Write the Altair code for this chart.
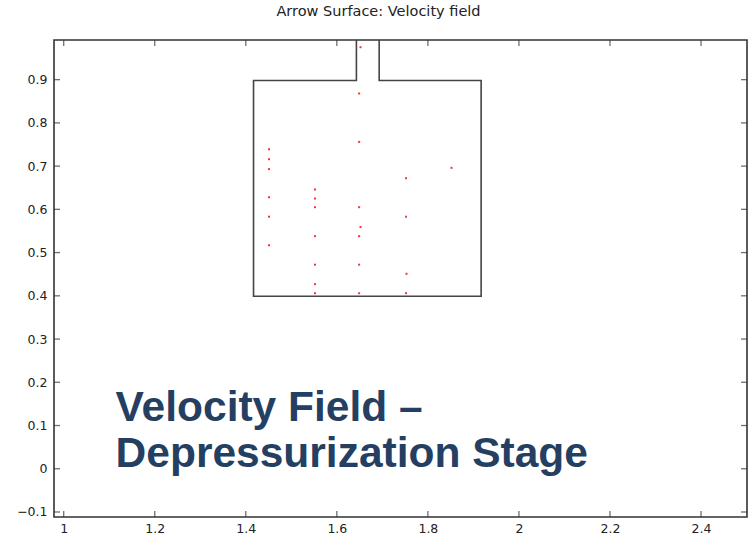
import altair as alt
import pandas as pd

# Geometry outline (box with outlet pipe), data coordinates
outline_x = [1.643, 1.643, 1.417, 1.417, 1.917, 1.917, 1.693, 1.693]
outline_y = [1.05, 0.898, 0.898, 0.399, 0.399, 0.898, 0.898, 1.05]

# Velocity arrow locations (arrows are tiny -> dots)
arrow_x = [1.652, 1.649, 1.649, 1.451, 1.451, 1.451, 1.852, 1.752, 1.552, 1.451,
           1.552, 1.552, 1.649, 1.451, 1.752, 1.652, 1.552, 1.649, 1.451, 1.552,
           1.649, 1.753, 1.552, 1.552, 1.649, 1.752]
arrow_y = [0.975, 0.868, 0.756, 0.739, 0.716, 0.693, 0.696, 0.672, 0.646, 0.628,
           0.625, 0.605, 0.605, 0.583, 0.583, 0.559, 0.538, 0.538, 0.517, 0.472,
           0.472, 0.451, 0.427, 0.406, 0.406, 0.406]

x_ticks = [1.0, 1.2, 1.4, 1.6, 1.8, 2.0, 2.2, 2.4]
y_ticks = [-0.1, 0.0, 0.1, 0.2, 0.3, 0.4, 0.5, 0.6, 0.7, 0.8, 0.9]

overlay_text = ["Velocity Field \u2013", "Depressurization Stage"]
overlay_x = [1.114, 1.114]
overlay_y = [0.111, 0.003]

W, H = 693, 477
x_dom = [0.9787, 2.501]
y_dom = [-0.1116, 0.9917]

xs = alt.Scale(domain=x_dom, nice=False, zero=False)
ys = alt.Scale(domain=y_dom, nice=False, zero=False)

outline_df = pd.DataFrame({"x": outline_x, "y": outline_y, "o": list(range(len(outline_x)))})
arrows_df = pd.DataFrame({"x": arrow_x, "y": arrow_y})
xt_df = pd.DataFrame({"v": x_ticks})
yt_df = pd.DataFrame({"v": y_ticks})
txt_df = pd.DataFrame({"t": overlay_text, "x": overlay_x, "y": overlay_y})

axis_x = alt.Axis(values=x_ticks, ticks=False, domain=False, grid=False, title=None,
                  labelFont="DejaVu Sans", labelFontSize=12.5, labelColor="#222",
                  labelPadding=5, labelExpr="format(datum.value, '.1~f')")
axis_y = alt.Axis(values=y_ticks, ticks=False, domain=False, grid=False, title=None,
                  labelFont="DejaVu Sans", labelFontSize=12.5, labelColor="#222",
                  labelPadding=7, labelExpr="format(datum.value, '.1~f')")

outline = alt.Chart(outline_df).mark_line(color="#444", strokeWidth=1.6, clip=True).encode(
    x=alt.X("x:Q", scale=xs, axis=axis_x),
    y=alt.Y("y:Q", scale=ys, axis=axis_y),
    order="o:Q",
)

arrows = alt.Chart(arrows_df).mark_square(size=4, color="#ff1a1a", opacity=0.9).encode(
    x=alt.X("x:Q", scale=xs),
    y=alt.Y("y:Q", scale=ys),
)

tick_style = dict(color="#333", thickness=1.3, size=6)
top_ticks = alt.Chart(xt_df).mark_tick(**tick_style).encode(
    x=alt.X("v:Q", scale=xs), y=alt.value(3))
bottom_ticks = alt.Chart(xt_df).mark_tick(**tick_style).encode(
    x=alt.X("v:Q", scale=xs), y=alt.value(H - 3))
left_ticks = alt.Chart(yt_df).mark_tick(**tick_style).encode(
    y=alt.Y("v:Q", scale=ys), x=alt.value(3))
right_ticks = alt.Chart(yt_df).mark_tick(**tick_style).encode(
    y=alt.Y("v:Q", scale=ys), x=alt.value(W - 3))

overlay = alt.Chart(txt_df).mark_text(
    font="Liberation Sans", fontWeight="bold", fontSize=42.5, color="#253F63",
    align="left", baseline="alphabetic"
).encode(
    x=alt.X("x:Q", scale=xs),
    y=alt.Y("y:Q", scale=ys),
    text="t:N",
)

chart = alt.layer(outline, arrows, top_ticks, bottom_ticks, left_ticks, right_ticks, overlay).properties(
    width=W, height=H,
    autosize=alt.AutoSizeParams(type="none"),
    padding={"left": 54, "top": 40, "right": 5, "bottom": 24},
    title=alt.TitleParams("Arrow Surface: Velocity field", font="DejaVu Sans", fontSize=14.5,
                          fontWeight="normal", color="#222", anchor="middle", dx=-22, offset=21),
).configure_view(stroke="#333", strokeWidth=1.6)

chart.save("out.html", embed_options={"renderer": "svg", "actions": False})
